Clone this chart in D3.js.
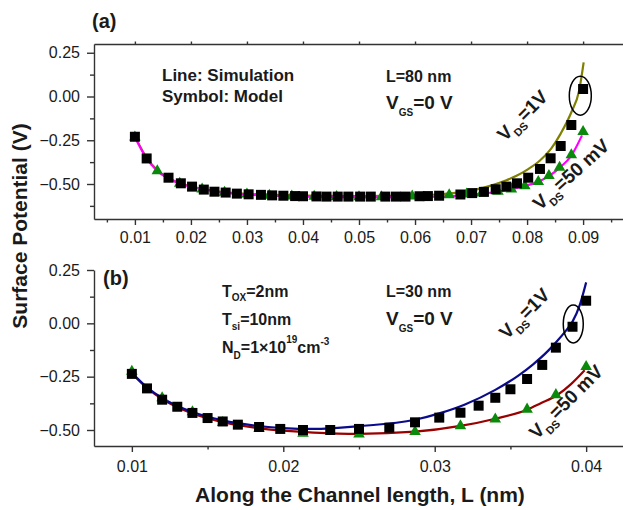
<!DOCTYPE html>
<html>
<head>
<meta charset="utf-8">
<script src="https://cdn.jsdelivr.net/npm/d3@7"></script>
<style>
  html, body { margin: 0; padding: 0; background: #fff; }
  svg { display: block; font-family: "Liberation Sans", Arial, Helvetica, sans-serif; }
</style>
</head>
<body>
<svg id="chart" width="623" height="510"></svg>
<script>
// ---------- Panel (a): L = 80 nm ----------
const aXDomain = [0.0027, 0.0973];
const aYDomain = [-0.7, 0.3];
const aXMajor = [0.01, 0.02, 0.03, 0.04, 0.05, 0.06, 0.07, 0.08, 0.09];
const aXMinor = [0.005, 0.015, 0.025, 0.035, 0.045, 0.055, 0.065, 0.075, 0.085, 0.095];
const aYMajor = [0.25, 0.00, -0.25, -0.50];
const aYMinor = [0.125, -0.125, -0.375, -0.625];

// simulation, VDS = 1 V
const aSim1VX = [0.0100,0.0120,0.0140,0.0160,0.0180,0.0200,0.0250,0.0300,0.0400,0.0500,0.0600,0.0650,0.0700,0.0734,0.0763,0.0782,0.0802,0.0823,0.0843,0.0860,0.0879,0.0893,0.0901];
const aSim1VY = [-0.228,-0.345,-0.422,-0.466,-0.495,-0.513,-0.543,-0.556,-0.566,-0.569,-0.565,-0.557,-0.538,-0.511,-0.479,-0.452,-0.415,-0.366,-0.298,-0.212,-0.090,0.035,0.195];
// simulation, VDS = 50 mV
const aSim50X = [0.0100,0.0120,0.0140,0.0160,0.0180,0.0200,0.0250,0.0300,0.0400,0.0500,0.0600,0.0650,0.0700,0.0734,0.0772,0.0796,0.0820,0.0839,0.0858,0.0879,0.0898];
const aSim50Y = [-0.232,-0.350,-0.426,-0.469,-0.498,-0.516,-0.546,-0.560,-0.572,-0.576,-0.575,-0.571,-0.562,-0.550,-0.530,-0.511,-0.487,-0.455,-0.408,-0.338,-0.222];
// model, VDS = 1 V (squares)
const aMod1VX = [0.0100,0.0121,0.0160,0.0182,0.0202,0.0223,0.0242,0.0262,0.0282,0.0303,0.0325,0.0345,0.0365,0.0386,0.0400,0.0424,0.0442,0.0462,0.0481,0.0502,0.0521,0.0547,0.0566,0.0583,0.0608,0.0623,0.0643,0.0681,0.0702,0.0723,0.0744,0.0763,0.0782,0.0802,0.0823,0.0842,0.0860,0.0879,0.0900];
const aMod1VY = [-0.230,-0.354,-0.464,-0.496,-0.515,-0.532,-0.544,-0.549,-0.555,-0.559,-0.562,-0.565,-0.567,-0.569,-0.570,-0.571,-0.572,-0.572,-0.572,-0.572,-0.572,-0.572,-0.572,-0.572,-0.570,-0.569,-0.567,-0.560,-0.552,-0.545,-0.530,-0.515,-0.496,-0.464,-0.414,-0.353,-0.283,-0.163,0.043];
// model, VDS = 50 mV (triangles)
const aMod50X = [0.0100,0.0140,0.0180,0.0220,0.0260,0.0300,0.0340,0.0380,0.0420,0.0460,0.0500,0.0540,0.0595,0.0661,0.0692,0.0719,0.0748,0.0772,0.0796,0.0820,0.0839,0.0858,0.0879,0.0900];
const aMod50Y = [-0.232,-0.425,-0.497,-0.530,-0.548,-0.558,-0.565,-0.569,-0.571,-0.573,-0.574,-0.574,-0.570,-0.563,-0.558,-0.552,-0.543,-0.530,-0.511,-0.487,-0.452,-0.405,-0.334,-0.201];
const aHighlight = [0.0895, 0.005];

// ---------- Panel (b): L = 30 nm ----------
const bXDomain = [0.0075, 0.0425];
const bYDomain = [-0.575, 0.25];
const bXMajor = [0.01, 0.02, 0.03, 0.04];
const bXMinor = [0.015, 0.025, 0.035];
const bYMajor = [0.25, 0.00, -0.25, -0.50];
const bYMinor = [0.125, -0.125, -0.375];

const bSim1VX = [0.0100,0.0110,0.0120,0.0130,0.0140,0.0150,0.0160,0.0170,0.0180,0.0190,0.0200,0.0220,0.0250,0.0287,0.0303,0.0320,0.0340,0.0355,0.0365,0.0375,0.0381,0.0386,0.0391,0.0396,0.0400];
const bSim1VY = [-0.232,-0.300,-0.350,-0.388,-0.416,-0.438,-0.455,-0.468,-0.478,-0.486,-0.491,-0.495,-0.482,-0.452,-0.422,-0.380,-0.312,-0.246,-0.192,-0.128,-0.082,-0.040,0.008,0.090,0.192];
const bSim50X = [0.0100,0.0110,0.0120,0.0130,0.0140,0.0150,0.0160,0.0170,0.0180,0.0190,0.0200,0.0220,0.0250,0.0287,0.0317,0.0340,0.0361,0.0370,0.0381,0.0390,0.0399];
const bSim50Y = [-0.235,-0.303,-0.355,-0.393,-0.422,-0.445,-0.463,-0.477,-0.488,-0.497,-0.503,-0.512,-0.518,-0.508,-0.481,-0.447,-0.405,-0.375,-0.336,-0.285,-0.220];
const bMod1VX = [0.0100,0.0110,0.0120,0.0130,0.0140,0.0150,0.0160,0.0170,0.0184,0.0198,0.0213,0.0231,0.0250,0.0270,0.0287,0.0303,0.0317,0.0329,0.0340,0.0350,0.0361,0.0371,0.0380,0.0391,0.0400];
const bMod1VY = [-0.237,-0.305,-0.358,-0.391,-0.420,-0.444,-0.460,-0.475,-0.486,-0.495,-0.500,-0.500,-0.495,-0.489,-0.464,-0.442,-0.419,-0.386,-0.349,-0.309,-0.261,-0.195,-0.114,-0.016,0.106];
const bMod50X = [0.0100,0.0120,0.0140,0.0160,0.0184,0.0213,0.0250,0.0287,0.0317,0.0340,0.0361,0.0380,0.0400];
const bMod50Y = [-0.225,-0.350,-0.415,-0.466,-0.493,-0.516,-0.519,-0.508,-0.481,-0.449,-0.403,-0.335,-0.203];
const bHighlight = [0.03915, -0.003];

// ---------- drawing ----------
const svg = d3.select("#chart");
const AXIS = "#333";
const TEXT = "#1a1a1a";
const zip = (xs, ys) => xs.map((x, i) => [x, ys[i]]);

function axes(g, x, y, cfg) {
  const fmt = d3.format(".2f");
  const style = sel => {
    sel.selectAll("path, line").attr("stroke", AXIS).attr("stroke-width", 1.4);
    sel.selectAll("text").attr("font-size", 16).attr("fill", TEXT)
       .attr("font-family", "Liberation Sans, Arial, sans-serif");
  };
  const y0 = y.range()[0];
  const x0 = x.range()[0];
  g.append("g").attr("transform", `translate(0,${y0})`)
    .call(d3.axisBottom(x).tickValues(cfg.xMajor).tickSize(6).tickSizeOuter(0)
      .tickPadding(cfg.xPad).tickFormat(fmt)).call(style);
  g.append("g").attr("transform", `translate(0,${y0})`)
    .call(d3.axisBottom(x).tickValues(cfg.xMinor).tickSize(3.5).tickSizeOuter(0).tickFormat(""))
    .call(style).select(".domain").remove();
  g.append("g").attr("transform", `translate(${x0},0)`)
    .call(d3.axisLeft(y).tickValues(cfg.yMajor).tickSize(7).tickSizeOuter(0)
      .tickPadding(7).tickFormat(fmt)).call(style);
  g.append("g").attr("transform", `translate(${x0},0)`)
    .call(d3.axisLeft(y).tickValues(cfg.yMinor).tickSize(4).tickSizeOuter(0).tickFormat(""))
    .call(style).select(".domain").remove();
  if (cfg.top) {
    const yt = y.range()[1];
    g.append("g").attr("transform", `translate(0,${yt})`)
      .call(d3.axisTop(x).tickValues(cfg.xMajor).tickSize(2.5).tickSizeOuter(0).tickFormat(""))
      .call(style);
  }
}

function series(g, x, y, sims, mods50, mods1V) {
  const line = d3.line().x(d => x(d[0])).y(d => y(d[1])).curve(d3.curveMonotoneX);
  sims.forEach(s => {
    g.append("path").datum(s.data).attr("d", line)
      .attr("fill", "none").attr("stroke", s.color).attr("stroke-width", 2.2);
  });
  const tri = d3.symbol(d3.symbolTriangle, 58);
  g.selectAll(null).data(mods50).join("path")
    .attr("d", tri).attr("transform", d => `translate(${x(d[0])},${y(d[1])})`)
    .attr("fill", "#0a8a0a");
  const sq = d3.symbol(d3.symbolSquare, 100);
  g.selectAll(null).data(mods1V).join("path")
    .attr("d", sq).attr("transform", d => `translate(${x(d[0])},${y(d[1])})`)
    .attr("fill", "#000");
}

function richText(g, x, y, parts, size, rotate) {
  const t = g.append("text").attr("font-weight", "bold").attr("fill", TEXT)
    .attr("font-size", size)
    .attr("transform", `translate(${x},${y})` + (rotate ? ` rotate(${rotate})` : ""));
  let shift = 0;
  parts.forEach(p => {
    const off = p.sub ? p.sub : 0;
    t.append("tspan").text(p.t)
      .attr("font-size", p.size || size)
      .attr("dy", off - shift);
    shift = off;
  });
  return t;
}

function ellipse(g, x, y, pt, rx, ry) {
  g.append("ellipse").attr("cx", x(pt[0])).attr("cy", y(pt[1]))
    .attr("rx", rx).attr("ry", ry)
    .attr("fill", "none").attr("stroke", "#000").attr("stroke-width", 1.5);
}

// Panel (a)
const xa = d3.scaleLinear().domain(aXDomain).range([94, 624]);
const ya = d3.scaleLinear().domain(aYDomain).range([219, 44]);
const ga = svg.append("g");
axes(ga, xa, ya, { xMajor: aXMajor, xMinor: aXMinor, yMajor: aYMajor, yMinor: aYMinor, xPad: 7, top: true });
series(ga, xa, ya,
  [{ data: zip(aSim1VX, aSim1VY), color: "#808000" },
   { data: zip(aSim50X, aSim50Y), color: "#ff00ff" }],
  zip(aMod50X, aMod50Y), zip(aMod1VX, aMod1VY));
ellipse(ga, xa, ya, aHighlight, 11, 19.5);

richText(ga, 92, 28, [{ t: "(a)" }], 20);
richText(ga, 162, 81, [{ t: "Line: Simulation" }], 17);
richText(ga, 162, 102, [{ t: "Symbol: Model" }], 17);
richText(ga, 386, 81.5, [{ t: "L=80 nm" }], 16);
richText(ga, 386, 109, [{ t: "V" }, { t: "GS", size: 10, sub: 7 }, { t: "=0 V" }], 19);
richText(ga, 505, 142, [{ t: "V" }, { t: "DS", size: 11, sub: 6 }, { t: "=1V" }], 19, -45);
richText(ga, 540, 211, [{ t: "V" }, { t: "DS", size: 11, sub: 6 }, { t: "=50 mV" }], 19, -42);

// Panel (b)
const xb = d3.scaleLinear().domain(bXDomain).range([94, 624]);
const yb = d3.scaleLinear().domain(bYDomain).range([446, 270]);
const gb = svg.append("g");
axes(gb, xb, yb, { xMajor: bXMajor, xMinor: bXMinor, yMajor: bYMajor, yMinor: bYMinor, xPad: 9, top: false });
series(gb, xb, yb,
  [{ data: zip(bSim50X, bSim50Y), color: "#990000" },
   { data: zip(bSim1VX, bSim1VY), color: "#0a0a8c" }],
  zip(bMod50X, bMod50Y), zip(bMod1VX, bMod1VY));
ellipse(gb, xb, yb, bHighlight, 10, 19);

richText(gb, 103, 285, [{ t: "(b)" }], 20);
richText(gb, 222, 296.7, [{ t: "T" }, { t: "OX", size: 10, sub: 4 }, { t: "=2nm" }], 16);
richText(gb, 222, 325, [{ t: "T" }, { t: "si", size: 10, sub: 4.5 }, { t: "=10nm" }], 16);
richText(gb, 222, 353.3, [{ t: "N" }, { t: "D", size: 10, sub: 6 }, { t: "=1\u00d710" },
  { t: "19", size: 10, sub: -10 }, { t: "cm" }, { t: "-3", size: 10, sub: -8 }], 16);
richText(gb, 386, 296.7, [{ t: "L=30 nm" }], 16);
richText(gb, 386, 325, [{ t: "V" }, { t: "GS", size: 10, sub: 7 }, { t: "=0 V" }], 19);
richText(gb, 507, 340, [{ t: "V" }, { t: "DS", size: 11, sub: 6 }, { t: "=1V" }], 19, -45);
richText(gb, 537, 440, [{ t: "V" }, { t: "DS", size: 11, sub: 6 }, { t: "=50 mV" }], 19, -45);

// Axis titles
svg.append("text").attr("transform", "translate(27,226) rotate(-90)")
  .attr("text-anchor", "middle").attr("font-weight", "bold").attr("font-size", 21)
  .attr("fill", TEXT).text("Surface Potential (V)");
svg.append("text").attr("x", 360).attr("y", 501.5)
  .attr("text-anchor", "middle").attr("font-weight", "bold").attr("font-size", 21)
  .attr("fill", TEXT).text("Along the Channel length, L (nm)");
</script>
</body>
</html>
